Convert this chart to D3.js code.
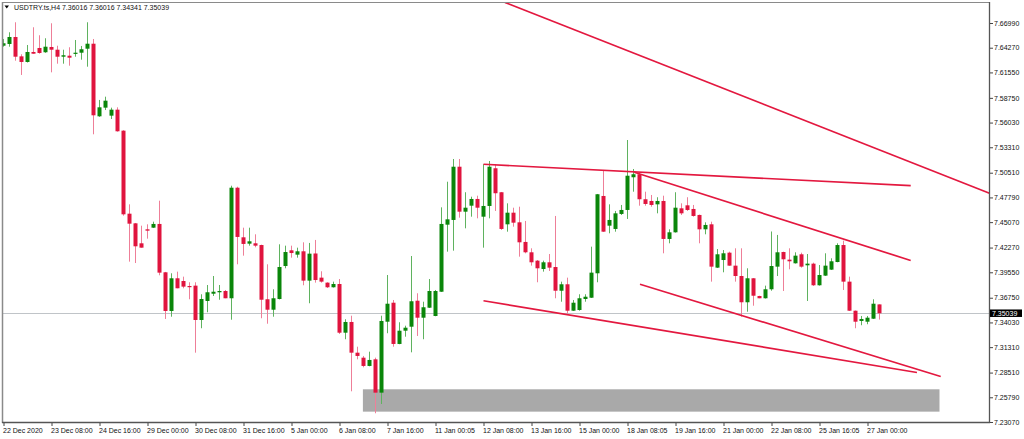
<!DOCTYPE html>
<html><head><meta charset="utf-8">
<script src="https://cdn.jsdelivr.net/npm/d3@7"></script>
<style>
html,body{margin:0;padding:0;background:#fff;}
svg{display:block;}
text{font-family:"Liberation Sans",Arial,sans-serif;}
</style></head>
<body>
<svg id="c" width="1024" height="439"></svg>
<script>
const symbolTitle = "USDTRY.ts,H4";
const lastQuote = ["7.36016","7.36016","7.34341","7.35039"];

const opens = [7.6449,7.6468,7.6545,7.6332,7.6270,7.6380,7.6424,7.6377,7.6435,7.6405,7.6328,7.6339,7.6361,7.6372,7.6416,7.6471,7.5672,7.5767,7.5679,7.5745,
7.5514,7.4600,7.4494,7.4274,7.4428,7.4446,7.4487,7.3955,7.3529,7.3889,7.3859,7.3804,7.3808,7.3430,7.3639,7.3719,7.3735,7.3749,7.3669,7.4886,
7.4340,7.4270,7.4274,7.4255,7.3658,7.3543,7.3661,7.4024,7.4197,7.4149,7.4186,7.3863,7.4162,7.3896,7.3841,7.3790,7.3826,7.3290,7.3408,7.3070,
7.3015,7.2924,7.2997,7.2630,7.3411,7.3620,7.3166,7.3312,7.3356,7.3642,7.3455,7.3565,7.3474,7.3741,7.4479,7.4531,7.5117,7.4622,7.4688,7.4762,
7.4567,7.4685,7.5100,7.4836,7.4483,7.4611,7.4505,7.4289,7.4175,7.4083,7.3991,7.4065,7.4013,7.3752,7.3823,7.3532,7.3540,7.3661,7.3675,7.3944,
7.4795,7.4468,7.4432,7.4597,7.4641,7.5001,7.5034,7.4759,7.4740,7.4703,7.4740,7.4322,7.4395,7.4659,7.4692,7.4652,7.4586,7.4428,7.4483,7.4006,
7.4090,7.4171,7.4028,7.3914,7.3625,7.3889,7.3694,7.3669,7.3768,7.4017,7.4178,7.4094,7.4054,7.4153,7.4032,7.4050,7.3812,7.3918,7.3984,7.4068,
7.4255,7.3852,7.3532,7.3419,7.3411,7.3444,7.36016];
const highs = [7.6523,7.6597,7.6707,7.6355,7.6457,7.6652,7.6564,7.6531,7.6696,7.6449,7.6405,7.6432,7.6512,7.6446,7.6707,7.6523,7.5852,7.5888,7.5767,7.5771,
7.5519,7.4703,7.4498,7.4468,7.4483,7.4512,7.4743,7.3959,7.3944,7.3962,7.3907,7.3845,7.3845,7.3713,7.3815,7.3914,7.3815,7.3760,7.4908,7.4897,
7.4446,7.4446,7.4373,7.4259,7.4043,7.3768,7.4263,7.4248,7.4248,7.4226,7.4285,7.4278,7.4311,7.3966,7.3845,7.3852,7.3881,7.3438,7.3477,7.3136,
7.3034,7.3081,7.3015,7.3477,7.3925,7.3650,7.3405,7.3367,7.4134,7.3724,7.3631,7.3881,7.3760,7.4670,7.4952,7.5202,7.5202,7.4836,7.4787,7.4798,
7.5144,7.5180,7.5144,7.4839,7.4714,7.4666,7.4677,7.4520,7.4219,7.4090,7.4083,7.4156,7.4575,7.3852,7.3896,7.3650,7.3713,7.3713,7.4237,7.4817,
7.5070,7.4703,7.4630,7.4696,7.5411,7.5092,7.5056,7.4842,7.4806,7.4781,7.4798,7.4428,7.4836,7.4714,7.4781,7.4696,7.4590,7.4505,7.4512,7.4211,
7.4200,7.4182,7.4219,7.4219,7.3999,7.3892,7.3697,7.3808,7.4404,7.4366,7.4182,7.4219,7.4175,7.4171,7.4156,7.4061,7.4035,7.4164,7.4109,7.4274,
7.4303,7.3907,7.3534,7.3474,7.3474,7.3658,7.36016];
const lows = [7.6438,7.6438,7.6284,7.6127,7.6264,7.6361,7.6361,7.6371,7.6156,7.6251,7.6251,7.6229,7.6328,7.6295,7.6218,7.5474,7.5666,7.5741,7.5642,7.5503,
7.4578,7.4072,7.4057,7.4226,7.4325,7.4443,7.3922,7.3441,7.3466,7.3779,7.3779,7.3658,7.3070,7.3339,7.3515,7.3694,7.3653,7.3669,7.3433,7.4043,
7.4138,7.4248,7.4230,7.3449,7.3389,7.3466,7.3656,7.3999,7.4116,7.4116,7.3812,7.3614,7.3841,7.3841,7.3782,7.3787,7.3276,7.3218,7.2645,7.2997,
7.2909,7.2920,7.2403,7.2505,7.3284,7.3136,7.3163,7.3246,7.3074,7.3254,7.3218,7.3562,7.3471,7.3738,7.4182,7.4193,7.4556,7.4439,7.4567,7.4549,
7.4226,7.4549,7.4630,7.4421,7.4402,7.4457,7.4127,7.4164,7.4028,7.3845,7.3962,7.3969,7.3669,7.3631,7.3504,7.3529,7.3532,7.3631,7.3672,7.3845,
7.4399,7.4384,7.4402,7.4586,7.4542,7.4842,7.4688,7.4688,7.4677,7.4604,7.4164,7.4274,7.4392,7.4586,7.4630,7.4567,7.4274,7.4373,7.3852,7.4002,
7.3955,7.4026,7.3852,7.3466,7.3521,7.3587,7.3669,7.3666,7.3752,7.3914,7.3749,7.3988,7.4051,7.4006,7.3639,7.3804,7.3808,7.3914,7.3980,7.4065,
7.3760,7.3529,7.3339,7.3372,7.3383,7.3441,7.34341];
const closes = [7.6476,7.6545,7.6328,7.6270,7.6380,7.6361,7.6369,7.6438,7.6405,7.6328,7.6344,7.6317,7.6372,7.6410,7.6471,7.5683,7.5771,7.5844,7.5745,7.5507,
7.4593,7.4490,7.4241,7.4226,7.4413,7.4487,7.3951,7.3529,7.3889,7.3779,7.3797,7.3793,7.3430,7.3661,7.3735,7.3741,7.3749,7.3669,7.4886,7.4344,
7.4267,7.4296,7.4248,7.3653,7.3543,7.3669,7.4013,7.4178,7.4167,7.4186,7.3863,7.4160,7.3870,7.3852,7.3790,7.3826,7.3290,7.3408,7.3070,7.3034,
7.2924,7.2990,7.2630,7.3419,7.3609,7.3166,7.3312,7.3345,7.3636,7.3455,7.3570,7.3749,7.3749,7.4487,7.4538,7.5117,7.4622,7.4666,7.4762,7.4666,
7.4685,7.5117,7.4825,7.4432,7.4611,7.4501,7.4285,7.4175,7.4065,7.3999,7.4065,7.4006,7.3752,7.3823,7.3532,7.3620,7.3669,7.3686,7.3951,7.4814,
7.4402,7.4531,7.4604,7.4641,7.5018,7.5034,7.4759,7.4707,7.4696,7.4740,7.4322,7.4395,7.4666,7.4604,7.4641,7.4575,7.4428,7.4476,7.4017,7.4153,
7.4164,7.4028,7.3914,7.3625,7.3889,7.3697,7.3669,7.3768,7.4024,7.4175,7.4098,7.4076,7.4138,7.4017,7.4050,7.3812,7.3925,7.4028,7.4076,7.4255,
7.3852,7.3532,7.3411,7.3441,7.3455,7.3609,7.35039];

const yTicks = [7.66990,7.64270,7.61550,7.58750,7.56030,7.53310,7.50510,7.47790,7.45070,7.42270,7.39550,7.36750,7.34030,7.31310,7.28510,7.25790,7.23070];
const xTickBars = [0,8,16,24,32,40,48,56,64,72,80,88,96,104,112,120,128,136,144];
const xTickLabels = ["22 Dec 2020","23 Dec 08:00","24 Dec 16:00","29 Dec 00:00","30 Dec 08:00","31 Dec 16:00","5 Jan 00:00","6 Jan 08:00","7 Jan 16:00","11 Jan 00:05","12 Jan 08:00","13 Jan 16:00","15 Jan 00:00","18 Jan 08:05","19 Jan 16:00","21 Jan 00:00","22 Jan 08:00","25 Jan 16:05","27 Jan 00:00"];

const currentPrice = 7.35039;
// trend lines: [barStart, priceStart, barEnd, priceEnd]
const trendLines = [
  [83.58, 7.6925, 164.33, 7.4825],
  [80.0, 7.5144, 151.2, 7.4908],
  [105.13, 7.5056, 151.2, 7.4085],
  [80.0, 7.3642, 152.25, 7.2852],
  [106.08, 7.3823, 156.2, 7.2808]
];
// support zone: [barStart, barEnd, priceTop, priceBottom]
const zone = [59.9, 156.0, 7.2667, 7.2421];

const svg = d3.select("#c");
const L = 2, R = 990, T = 2, B = 423;
const x = d3.scaleLinear().domain([0, 146]).range([3.5, 879.5]);
const y = d3.scaleLinear().domain([7.2307, 7.6699]).range([422, 23]);

svg.append("rect").attr("width",1024).attr("height",439).attr("fill","#fff");
svg.append("defs").append("clipPath").attr("id","plot")
  .append("rect").attr("x",L).attr("y",T).attr("width",R-L).attr("height",B-T);

const plot = svg.append("g").attr("clip-path","url(#plot)");

// zone
plot.append("rect")
  .attr("x", x(zone[0])).attr("width", x(zone[1]) - x(zone[0]))
  .attr("y", y(zone[2])).attr("height", y(zone[3]) - y(zone[2]))
  .attr("fill", "#a9a9a9");

// current price line
plot.append("line").attr("x1",L).attr("x2",R)
  .attr("y1", Math.round(y(currentPrice))+0.5).attr("y2", Math.round(y(currentPrice))+0.5)
  .attr("stroke","#c0c4c8").attr("stroke-width",1.2);

// candles
const idx = d3.range(opens.length);
const RED = "#e0143e", GREEN = "#0a860a";
const cg = plot.append("g");
idx.forEach(i => {
  const o = opens[i], h = highs[i], l = lows[i], c = closes[i];
  const up = c > o;
  const col = up ? GREEN : RED;
  const cx = x(i);
  cg.append("line").attr("x1",cx).attr("x2",cx).attr("y1",y(h)).attr("y2",y(l))
    .attr("stroke", up ? "#5fb25f" : "#ee7f98").attr("stroke-width",1);
  const top = y(Math.max(o,c)), bot = y(Math.min(o,c));
  cg.append("rect").attr("x",cx-2).attr("width",4)
    .attr("y",top).attr("height",Math.max(1.2, bot-top)).attr("fill",col);
});

// trend lines
plot.selectAll("line.tl").data(trendLines).enter().append("line")
  .attr("class","tl")
  .attr("x1",d=>x(d[0])).attr("y1",d=>y(d[1]))
  .attr("x2",d=>x(d[2])).attr("y2",d=>y(d[3]))
  .attr("stroke","#e3183f").attr("stroke-width",1.7);

// frame
svg.append("line").attr("x1",L).attr("x2",R).attr("y1",T+0.5).attr("y2",T+0.5).attr("stroke","#8a8a8a");
svg.append("line").attr("x1",L+0.5).attr("x2",L+0.5).attr("y1",T).attr("y2",B).attr("stroke","#8a8a8a").attr("stroke-width",1.5);
svg.append("line").attr("x1",L).attr("x2",R).attr("y1",B-0.5).attr("y2",B-0.5).attr("stroke","#555").attr("stroke-width",1.3);
svg.append("line").attr("x1",R-0.5).attr("x2",R-0.5).attr("y1",T).attr("y2",B).attr("stroke","#555").attr("stroke-width",1.3);

// y axis
const ya = svg.append("g").attr("transform",`translate(${R},0)`)
  .call(d3.axisRight(y).tickValues(yTicks).tickSize(3).tickPadding(1).tickFormat(d3.format(".5f")));
ya.select(".domain").remove();
ya.selectAll(".tick line").attr("stroke","#444");
ya.selectAll("text").attr("font-size","7px").attr("fill","#111").attr("font-family","Liberation Sans, Arial, sans-serif");

// x axis
const xa = svg.append("g").attr("transform",`translate(0,${B})`)
  .call(d3.axisBottom(x).tickValues(xTickBars).tickSize(3).tickPadding(2).tickFormat((d,i)=>xTickLabels[i]));
xa.select(".domain").remove();
xa.selectAll(".tick line").attr("stroke","#444");
xa.selectAll("text").attr("text-anchor","start").attr("dx","-1").attr("font-size","7px").attr("fill","#111")
  .attr("font-family","Liberation Sans, Arial, sans-serif");

// current price label
const cy = y(currentPrice);
svg.append("rect").attr("x",R).attr("y",cy-3.8).attr("width",32).attr("height",7.5).attr("fill","#000");
svg.append("text").attr("x",R+2).attr("y",cy+2.6).attr("font-size","7px").attr("fill","#fff")
  .text(d3.format(".5f")(currentPrice));

// header
svg.append("path").attr("d","M4.5,5.5 L9,5.5 L6.75,8.5 Z").attr("fill","#000");
svg.append("text").attr("x",14).attr("y",10).attr("font-size","7px").attr("fill","#111")
  .text(symbolTitle + "  " + lastQuote.join(" "));
</script>
</body></html>
